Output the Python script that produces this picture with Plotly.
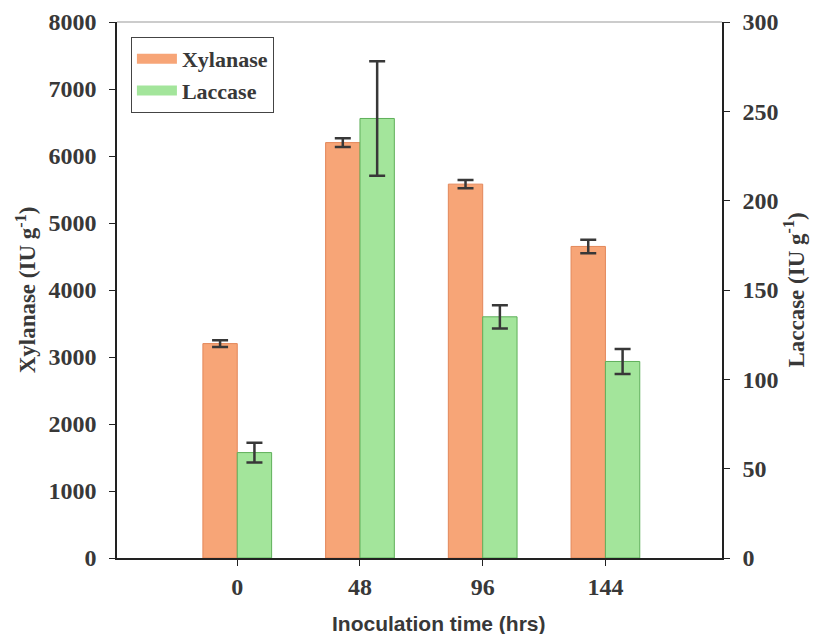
import plotly.graph_objects as go

categories = ["0", "48", "96", "144"]
xylanase = [3200, 6200, 5580, 4650]
xylanase_err = [50, 65, 60, 100]
laccase = [59, 246, 135, 110]
laccase_err = [5.5, 32, 6.5, 7]

xpos = list(range(len(categories)))
serif = "Liberation Serif, Times New Roman, serif"
orange, orange_edge = "#F7A577", "#E3875A"
green, green_edge = "#A3E59B", "#5FAF5A"
ink = "#383838"

fig = go.Figure()
fig.add_trace(go.Bar(
    x=xpos, y=xylanase, name="Xylanase", yaxis="y", showlegend=False,
    offset=-0.28, width=0.28,
    marker=dict(color=orange, line=dict(color=orange_edge, width=1)),
    error_y=dict(type="data", array=xylanase_err, color=ink, thickness=2.5, width=8),
))
fig.add_trace(go.Bar(
    x=xpos, y=laccase, name="Laccase", yaxis="y2", showlegend=False,
    offset=0, width=0.28,
    marker=dict(color=green, line=dict(color=green_edge, width=1)),
    error_y=dict(type="data", array=laccase_err, color=ink, thickness=2.5, width=8),
))
# legend-only entries with wide swatches
for name, col in [("Xylanase", orange), ("Laccase", green)]:
    fig.add_trace(go.Scatter(x=[None], y=[None], mode="lines", name=name,
                             line=dict(color=col, width=10)))

tickfont = dict(family=serif, size=24, color=ink, weight="bold")
titlefont = dict(family=serif, size=23, color=ink, weight="bold")

fig.update_layout(
    width=814, height=634,
    margin=dict(l=117, r=92, t=22, b=76, autoexpand=False),
    paper_bgcolor="white", plot_bgcolor="white",
    font=dict(family=serif, size=17, color=ink),
    showlegend=True,
    legend=dict(
        x=0.023, y=0.972, xanchor="left", yanchor="top",
        bgcolor="white", bordercolor="#444444", borderwidth=1,
        font=dict(family=serif, size=22, color=ink, weight="bold"),
        tracegroupgap=0, itemwidth=40,
    ),
    xaxis=dict(
        range=[-0.98, 3.95], tickmode="array", tickvals=xpos, ticktext=categories,
        showline=True, linecolor="#222222", linewidth=1.5, automargin=False,
        ticks="outside", ticklen=6, tickcolor="#222222", ticklabelstandoff=0,
        showgrid=False, zeroline=False,
        tickfont=tickfont,
    ),
    yaxis=dict(
        range=[0, 8000], tickvals=list(range(0, 8001, 1000)),
        showline=True, linecolor="#222222", linewidth=1.5, automargin=False,
        ticks="outside", ticklen=6, tickcolor="#222222", ticklabelstandoff=8,
        showgrid=False, zeroline=False,
        tickfont=tickfont,
        title=dict(text="Xylanase (IU g<sup>-1</sup>)", standoff=6, font=titlefont),
    ),
    yaxis2=dict(
        range=[0, 300], tickvals=list(range(0, 301, 50)),
        overlaying="y", side="right",
        showline=True, linecolor="#222222", linewidth=1.5, automargin=False,
        ticks="outside", ticklen=6, tickcolor="#222222", ticklabelstandoff=8,
        showgrid=False, zeroline=False,
        tickfont=tickfont,
        title=dict(text="Laccase (IU g<sup>-1</sup>)", standoff=10, font=titlefont),
    ),
    shapes=[dict(type="line", xref="paper", yref="paper", x0=0, x1=1, y0=1, y1=1,
                 line=dict(color="#999999", width=1))],
    annotations=[dict(text="Inoculation time (hrs)", xref="paper", yref="paper",
                      x=0.532, y=-0.097, xanchor="center", yanchor="top", showarrow=False,
                      font=dict(family="Liberation Sans, Arial, sans-serif", size=21,
                                color=ink, weight="bold"))],
)

fig.write_html("out.html", config={"displayModeBar": False},
               post_script="document.body.style.margin='0';document.body.style.overflow='hidden';")
